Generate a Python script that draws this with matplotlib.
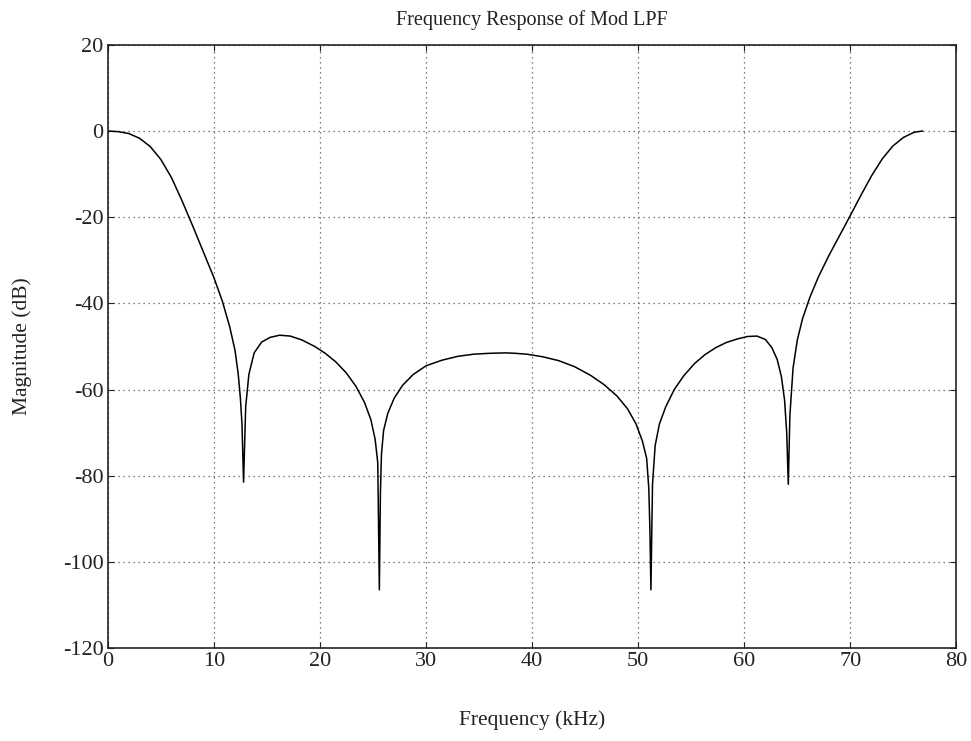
import matplotlib
matplotlib.use("Agg")
import matplotlib.pyplot as plt

freq_khz = [0, 1, 2, 3, 4, 5, 6, 7, 8, 9, 10, 10.8, 11.5, 12.0, 12.3, 12.5,
            12.65, 12.8, 13.0, 13.3, 13.8, 14.5, 15.3, 16.2, 17.2, 18.3, 19.5,
            20.5, 21.5, 22.5, 23.4, 24.2, 24.8, 25.2, 25.45, 25.6, 25.7, 25.8,
            26.0, 26.4, 27.0, 27.8, 28.8, 30.0, 31.5, 33.0, 34.5, 36.0, 37.5,
            38.4, 39.5, 41.0, 42.5, 44.0, 45.5, 46.8, 48.0, 49.0, 49.8, 50.4,
            50.8, 51.0, 51.1, 51.2, 51.35, 51.6, 52.0, 52.6, 53.4, 54.3, 55.3,
            56.3, 57.3, 58.3, 59.3, 60.3, 61.2, 62.0, 62.6, 63.1, 63.5, 63.8,
            64.0, 64.15, 64.3, 64.6, 65.0, 65.5, 66.2, 67.0, 68.0, 69.0, 70.0,
            71.0, 72.0, 73.0, 74.0, 75.0, 76.0, 76.8]
mag_db = [0, -0.15, -0.6, -1.7, -3.6, -6.6, -10.8, -16.2, -22.0, -28.0, -34.0,
          -39.5, -45.5, -51.0, -56.5, -62.0, -68.0, -81.5, -64.0, -56.5,
          -51.5, -49.0, -47.9, -47.4, -47.6, -48.5, -50.0, -51.6, -53.6, -56.2,
          -59.3, -63.0, -67.0, -71.5, -77.0, -106.5, -84.0, -75.0, -69.5,
          -65.5, -62.0, -59.0, -56.5, -54.5, -53.2, -52.3, -51.8, -51.6, -51.5,
          -51.6, -51.8, -52.4, -53.3, -54.7, -56.7, -58.9, -61.5, -64.5, -68.0,
          -72.0, -76.0, -83.0, -92.0, -106.5, -82.0, -73.0, -68.0, -64.0,
          -60.0, -56.8, -54.0, -51.9, -50.3, -49.1, -48.3, -47.7, -47.6, -48.4,
          -50.3, -53.0, -57.0, -62.5, -70.0, -82.0, -66.0, -55.0, -48.5, -43.5,
          -38.5, -33.8, -28.8, -24.2, -19.6, -14.9, -10.4, -6.5, -3.5, -1.5,
          -0.3, 0]

x_ticks = [0, 10, 20, 30, 40, 50, 60, 70, 80]
y_ticks = [20, 0, -20, -40, -60, -80, -100, -120]

plt.rcParams["font.family"] = ["Liberation Serif", "DejaVu Serif"]
plt.rcParams["axes.unicode_minus"] = False

fig = plt.figure(figsize=(9.71, 7.41), dpi=100)
ax = fig.add_axes([0.111, 0.1255, 0.874, 0.814])

ax.plot(freq_khz, mag_db, color="black", linewidth=1.1)

ax.set_xlim(0, 80)
ax.set_ylim(-120, 20)
ax.set_xticks(x_ticks)
ax.set_yticks(y_ticks)
ax.grid(True, linestyle=(0, (1, 3)), color="#555555", linewidth=0.9)
ax.tick_params(direction="in", top=True, right=True, length=4,
               labelsize=16, colors="#222222", pad=3)
for s in ax.spines.values():
    s.set_linewidth(1.2)
    s.set_color("#222222")

ax.set_title("Frequency Response of Mod LPF", fontsize=14.5,
             color="#222222", pad=14)
ax.set_xlabel("Frequency (kHz)", fontsize=15.5, color="#222222", labelpad=28)
ax.set_ylabel("Magnitude (dB)", fontsize=15.5, color="#222222", labelpad=22)

fig.savefig("out.png", dpi=100)
